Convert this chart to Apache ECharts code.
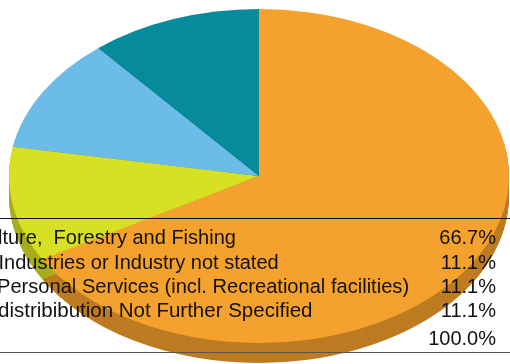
<!DOCTYPE html>
<html><head><meta charset="utf-8">
<style>html,body{margin:0;padding:0;background:#fff}#c{width:510px;height:364px}</style>
<script src="https://cdn.jsdelivr.net/npm/echarts@6/dist/echarts.min.js"></script></head>
<body><div id="c"></div>
<script>
const categories = ['Agriculture', 'Industries', 'Personal Services', 'Distribution'];
const values = [66.7, 11.1, 11.1, 11.1];
const topColors = ['#F5A12D', '#D8E023', '#6BBCE8', '#078A9A'];
const sideColors = ['#BE7B22', '#A8AE1F', '#5490B4', '#066A76'];
const rowLabels = ['lture,  Forestry and Fishing', 'Industries or Industry not stated', 'Personal Services (incl. Recreational facilities)', 'distribibution Not Further Specified', ''];
const rowValues = ['66.7%', '11.1%', '11.1%', '11.1%', '100.0%'];
const rowTops = [238, 263, 287, 311, 339];
const rowLefts = [-2, -1.5, -3, -2, 0];
const rowSizes = [20, 20, 20.1, 20.5, 20];

const total = values.reduce((a, b) => a + b, 0);
const CX = 259, CY = 176, RX = 250, RY = 167, DEPTH = 20;
const data = values.map((v, i) => ({ name: categories[i], value: [v, i] }));

function wedge(api, i, dy, fill) {
  let before = 0;
  for (let k = 0; k < i; k++) before += values[k];
  const a0 = -Math.PI / 2 + before / total * 2 * Math.PI;
  const a1 = a0 + api.value(0) / total * 2 * Math.PI;
  return {
    type: 'sector', x: CX, y: CY + dy, scaleX: 1, scaleY: RY / RX,
    shape: { cx: 0, cy: 0, r0: 0, r: RX, startAngle: a0, endAngle: a1, clockwise: true },
    style: { fill: fill, stroke: null }
  };
}
const chart = echarts.init(document.getElementById('c'), null, { renderer: 'canvas' });
const fontOf = s => s + 'px "Liberation Sans", Arial, sans-serif';
const graphic = [];
graphic.push({ type: 'line', z: 50, shape: { x1: 0, y1: 218.5, x2: 510, y2: 218.5 }, style: { stroke: '#111', lineWidth: 1 } });
graphic.push({ type: 'line', z: 50, shape: { x1: 0, y1: 352.5, x2: 510, y2: 352.5 }, style: { stroke: '#555', lineWidth: 1 } });
rowTops.forEach((y, i) => {
  if (rowLabels[i]) graphic.push({ type: 'text', z: 50, x: rowLefts[i], y: y, style: { text: rowLabels[i], fill: '#111', font: fontOf(rowSizes[i]), textAlign: 'left', textVerticalAlign: 'middle' } });
  graphic.push({ type: 'text', z: 50, x: 496, y: y, style: { text: rowValues[i], fill: '#111', font: fontOf(20), textAlign: 'right', textVerticalAlign: 'middle' } });
});
chart.setOption({
  animation: false,
  graphic: graphic,
  series: [
    { type: 'custom', coordinateSystem: 'none', silent: true, z: 1, data: data,
      renderItem: (p, api) => {
        const children = [];
        for (let d = DEPTH; d >= 1; d--) children.push(wedge(api, p.dataIndex, d, sideColors[p.dataIndex]));
        return { type: 'group', children };
      } },
    { type: 'custom', coordinateSystem: 'none', silent: true, z: 2, data: data,
      renderItem: (p, api) => wedge(api, p.dataIndex, 0, topColors[p.dataIndex]) }
  ]
});
</script></body></html>
